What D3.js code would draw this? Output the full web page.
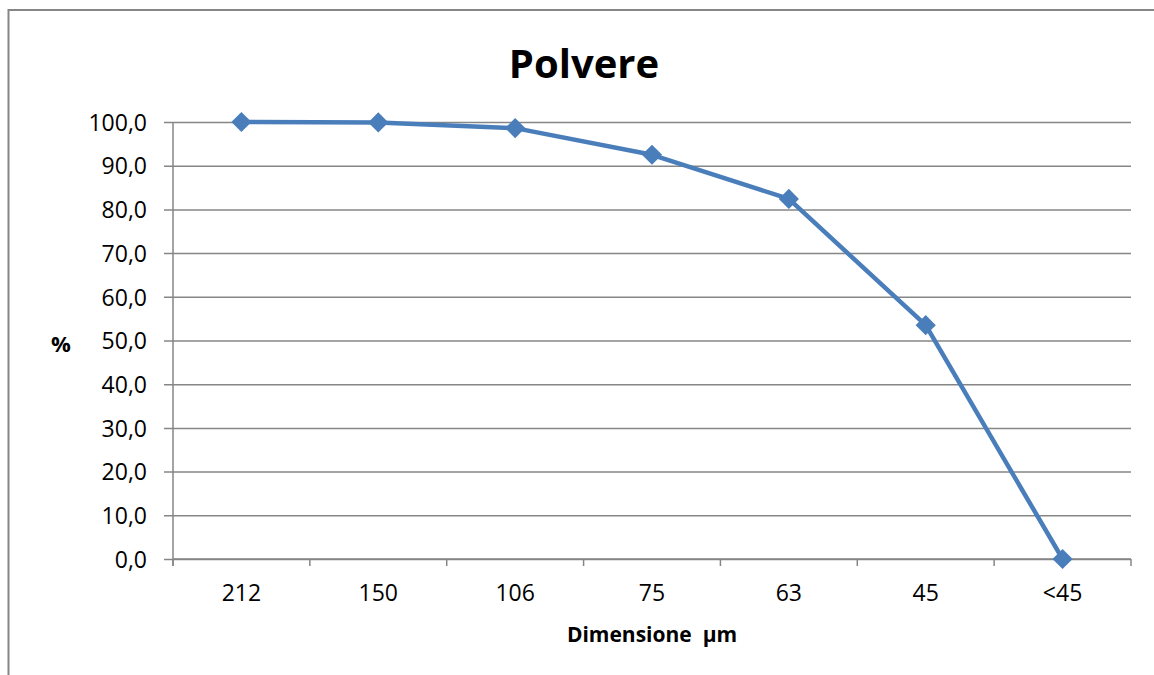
<!DOCTYPE html>
<html>
<head>
<meta charset="utf-8">
<script src="https://d3js.org/d3.v7.min.js"></script>
<style>
  body { margin: 0; background: #fff; }
  svg { display: block; }
</style>
</head>
<body>
<script>
// data
const categories = ["212", "150", "106", "75", "63", "45", "<45"];
const values = [100.0, 99.9, 98.6, 92.5, 82.4, 53.5, 0.0];
const yTicks = [0, 10, 20, 30, 40, 50, 60, 70, 80, 90, 100];

const width = 1154, height = 675;
const margin = { top: 122, bottom: 116, left: 173, right: 23 };

const svg = d3.select('body')
  .append('svg')
  .attr('width', width)
  .attr('height', height);

// chart frame (runs off the right / bottom edge like the original)
svg.append('rect')
  .attr('x', 8.5)
  .attr('y', 10)
  .attr('width', 1160)
  .attr('height', 700)
  .attr('fill', 'white')
  .attr('stroke', '#868686')
  .attr('stroke-width', 2);

// scales
const xScale = d3.scaleBand()
  .domain(categories)
  .range([margin.left, width - margin.right]);

const yScale = d3.scaleLinear()
  .domain([0, 100])
  .range([height - margin.bottom, margin.top]);

const gridColor = '#868686';
const fontFamily = "'Open Sans', 'Noto Sans', sans-serif";

// y axis with grid
const yAxis = svg.append('g')
  .attr('transform', `translate(${margin.left}, 0)`)
  .call(d3.axisLeft(yScale)
    .tickValues(yTicks)
    .tickSizeInner(-(width - margin.left - margin.right))
    .tickSizeOuter(0)
    .tickPadding(0)
    .tickFormat(d => d3.format('.1f')(d).replace('.', ',')));

yAxis.select('.domain').remove();
yAxis.selectAll('.tick line')
  .attr('x1', -9)
  .attr('stroke', gridColor)
  .attr('stroke-width', 1.5);
yAxis.selectAll('.tick text')
  .attr('x', -26)
  .attr('dy', '0.36em')
  .style('font-family', fontFamily)
  .style('font-size', '23px')
  .attr('fill', '#000');

// y axis line
svg.append('line')
  .attr('x1', margin.left)
  .attr('x2', margin.left)
  .attr('y1', yScale(100))
  .attr('y2', yScale(0) + 7)
  .attr('stroke', gridColor)
  .attr('stroke-width', 1.5);

// x axis
const bounds = categories.map(c => xScale(c)).concat([xScale.range()[1]]);
const xAxis = svg.append('g');
xAxis.append('line')
  .attr('x1', xScale.range()[0])
  .attr('x2', xScale.range()[1])
  .attr('y1', yScale(0))
  .attr('y2', yScale(0))
  .attr('stroke', gridColor)
  .attr('stroke-width', 1.5);
xAxis.selectAll('line.tk')
  .data(bounds)
  .enter()
  .append('line')
  .attr('class', 'tk')
  .attr('x1', d => d)
  .attr('x2', d => d)
  .attr('y1', yScale(0))
  .attr('y2', yScale(0) + 7)
  .attr('stroke', gridColor)
  .attr('stroke-width', 1.5);
xAxis.selectAll('text')
  .data(categories)
  .enter()
  .append('text')
  .attr('x', d => xScale(d) + xScale.bandwidth() / 2)
  .attr('y', 601)
  .attr('text-anchor', 'middle')
  .style('font-family', fontFamily)
  .style('font-size', '23px')
  .text(d => d);

// title
svg.append('text')
  .attr('x', 584)
  .attr('y', 78)
  .attr('text-anchor', 'middle')
  .style('font-family', fontFamily)
  .style('font-size', '40px')
  .style('font-weight', 'bold')
  .text('Polvere');

// axis labels
svg.append('text')
  .attr('x', 652)
  .attr('y', 642)
  .attr('text-anchor', 'middle')
  .style('font-family', fontFamily)
  .style('font-size', '21px')
  .style('font-weight', 'bold')
  .style('white-space', 'pre')
  .text('Dimensione  µm');

svg.append('text')
  .attr('x', 61)
  .attr('y', 352)
  .attr('text-anchor', 'middle')
  .style('font-family', fontFamily)
  .style('font-size', '22px')
  .style('font-weight', 'bold')
  .text('%');

// line
const points = categories.map((c, i) => ({ cat: c, val: values[i] }));
const line = d3.line()
  .x(d => xScale(d.cat) + xScale.bandwidth() / 2)
  .y(d => yScale(d.val));

svg.append('path')
  .datum(points)
  .attr('d', line)
  .attr('fill', 'none')
  .attr('stroke', '#4A7EBB')
  .attr('stroke-width', 4.5)
  .attr('stroke-linejoin', 'round');

// diamond markers
svg.selectAll('path.marker')
  .data(points)
  .enter()
  .append('path')
  .attr('class', 'marker')
  .attr('d', d3.symbol().type(d3.symbolDiamond2).size(260))
  .attr('transform', d => `translate(${xScale(d.cat) + xScale.bandwidth() / 2}, ${yScale(d.val)})`)
  .attr('fill', '#4A7EBB');
</script>
</body>
</html>
